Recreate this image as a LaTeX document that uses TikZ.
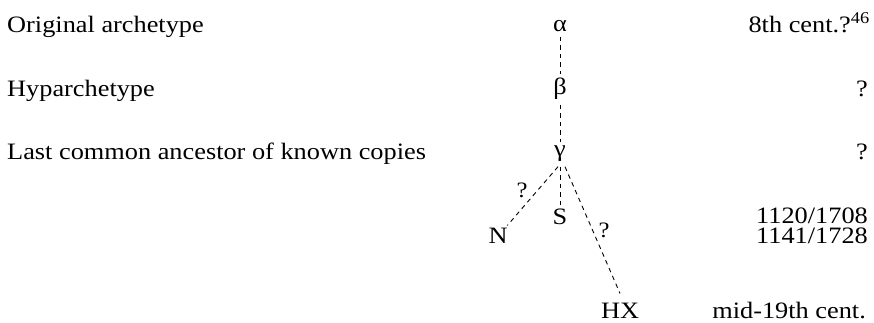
\documentclass[tikz,border=0pt]{standalone}
\usepackage{fontspec}
\setmainfont{Liberation Serif}[FakeStretch=1.12]
\begin{document}
\begin{tikzpicture}[x=1pt,y=1pt,
  txt/.style={font=\fontsize{23.5}{28}\selectfont, inner sep=0pt},
  lbl/.style={txt, anchor=base west},
  dat/.style={txt, anchor=base east},
  num/.style={dat, text height=15pt, text depth=0pt},
  sig/.style={txt, anchor=base, inner sep=4.5pt},
  qm/.style={font=\fontsize{22}{26}\selectfont, inner sep=0pt},
  dash line/.style={line width=0.9pt, dash pattern=on 4.5pt off 4pt}]
\useasboundingbox (0,0) rectangle (874,323);
% left labels
\node[lbl] (orig) at (7,290) {Original archetype};
\node[lbl] (hyp) at (7,226) {Hyparchetype};
\node[lbl] (last) at (7,163) {Last common ancestor of known copies};
% sigla
\node[sig] (a) at (560,291) {α};
\node[sig] (b) at (560,228) {β};
\node[sig] (c) at (560,166) {γ};
\node[sig, inner sep=3pt] (s) at (560,98) {S};
\node[sig, inner sep=3pt] (n) at (498,79) {N};
\node[txt, anchor=base] (hx) at (620,4) {HX};
% dates
\node[dat] (d1) at (870,290) {8th cent.?\textsuperscript{46}};
\node[dat] (d2) at (868,226) {?};
\node[dat] (d3) at (868,163) {?};
\node[num] (d4) at (868,99) {1120/1708};
\node[num] (d5) at (868,79) {1141/1728};
\node[dat] (d6) at (866,4) {mid-19th cent.};
% connectors
\draw[dash line] (a.south) -- (b.north);
\draw[dash line] (b.south) -- (c.north);
\coordinate (cl) at ([xshift=-2pt]c.south);
\coordinate (cr) at ([xshift=5pt]c.south);
\coordinate (hxtop) at ([yshift=10pt]hx.north);
\draw[dash line] (cl) -- (n);
\draw[dash line] (c.south) -- (s.north);
\draw[dash line] (cr) -- (hxtop);
% question marks on branches
\node[qm] (q1) at (522,133) {?};
\node[qm] (q2) at (604,93) {?};
\end{tikzpicture}
\end{document}
